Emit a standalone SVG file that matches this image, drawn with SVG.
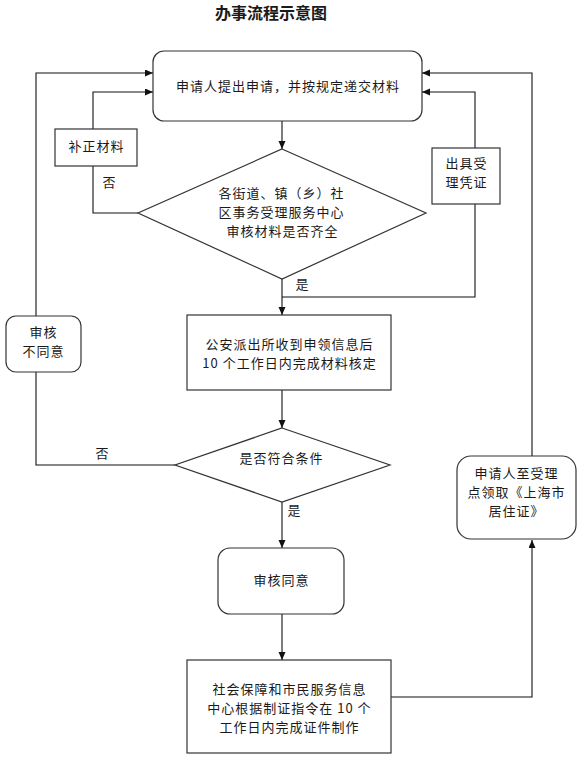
<svg xmlns="http://www.w3.org/2000/svg" width="582" height="757" viewBox="0 0 582 757">
<style>
text{font-family:"Noto Sans CJK SC","Noto Sans",sans-serif;font-size:13px;letter-spacing:1px;fill:#1a1a1a;text-anchor:middle}
.title{font-size:16px;font-weight:bold;letter-spacing:0}
.box{fill:#fff;stroke:#333;stroke-width:1.2}
.ln{fill:none;stroke:#111;stroke-width:1.1}
.arr{marker-end:url(#ah)}
</style>
<defs>
<marker id="ah" markerUnits="userSpaceOnUse" markerWidth="9" markerHeight="8" refX="8" refY="3.5" orient="auto">
<path d="M0,0 L8,3.5 L0,7 z" fill="#111"/>
</marker>
</defs>
<rect width="582" height="757" fill="#fff"/>
<text class="title" x="271" y="19">办事流程示意图</text>

<g id="connectors">
<line class="ln arr" x1="282" y1="121" x2="282" y2="149"/>
<polyline class="ln" points="138,213 93,213 93,166"/>
<polyline class="ln arr" points="93,129 93,92 153,92"/>
<polyline class="ln" points="475,204 475,297 282,297"/>
<polyline class="ln arr" points="475,148 475,92 422,92"/>
<line class="ln arr" x1="282" y1="279" x2="282" y2="315"/>
<line class="ln arr" x1="282" y1="390" x2="282" y2="428"/>
<polyline class="ln" points="175,465 36,465 36,372"/>
<polyline class="ln arr" points="36,316 36,73 153,73"/>
<line class="ln arr" x1="282" y1="502" x2="282" y2="548"/>
<line class="ln arr" x1="282" y1="614" x2="282" y2="660"/>
<polyline class="ln arr" points="391,697 532,697 532,540"/>
<polyline class="ln arr" points="532,456 532,73 422,73"/>
<text x="109.5" y="187">否</text>
<text x="302.5" y="289">是</text>
<text x="102.5" y="458">否</text>
<text x="294.5" y="515">是</text>
</g>

<g id="n-apply">
<rect class="box" x="153" y="51" width="269" height="70" rx="11"/>
<text x="288" y="91">申请人提出申请，并按规定递交材料</text>
</g>

<g id="n-check1">
<polygon class="box" points="282,149 426,213 282,279 138,213"/>
<text x="281.5" y="198">各街道、镇（乡）社<tspan x="281.5" dy="19">区事务受理服务中心</tspan><tspan x="282.5" dy="19">审核材料是否齐全</tspan></text>
</g>

<g id="n-supplement">
<rect class="box" x="55" y="129" width="82" height="37"/>
<text x="96.5" y="151">补正材料</text>
</g>

<g id="n-receipt">
<rect class="box" x="432" y="148" width="68" height="56"/>
<text x="466.5" y="168">出具受<tspan x="466.5" dy="19">理凭证</tspan></text>
</g>

<g id="n-police">
<rect class="box" x="187" y="315" width="204" height="75"/>
<text x="289.5" y="349">公安派出所收到申领信息后<tspan x="289.5" dy="19">10 个工作日内完成材料核定</tspan></text>
</g>

<g id="n-check2">
<polygon class="box" points="282,428 390,465 282,502 175,465"/>
<text x="281.5" y="463">是否符合条件</text>
</g>

<g id="n-reject">
<rect class="box" x="6" y="316" width="75" height="56" rx="10"/>
<text x="43.5" y="337">审核<tspan x="43.5" dy="19">不同意</tspan></text>
</g>

<g id="n-approve">
<rect class="box" x="218" y="548" width="126" height="66" rx="12"/>
<text x="281.5" y="585">审核同意</text>
</g>

<g id="n-make">
<rect class="box" x="187" y="660" width="204" height="93"/>
<text x="289.5" y="694">社会保障和市民服务信息<tspan x="289.5" dy="19">中心根据制证指令在 10 个</tspan><tspan x="289.5" dy="19">工作日内完成证件制作</tspan></text>
</g>

<g id="n-collect">
<rect class="box" x="457" y="456" width="119" height="83" rx="14"/>
<text x="516.5" y="478">申请人至受理<tspan x="516.5" dy="19">点领取《上海市</tspan><tspan x="516.5" dy="19">居住证》</tspan></text>
</g>
</svg>
